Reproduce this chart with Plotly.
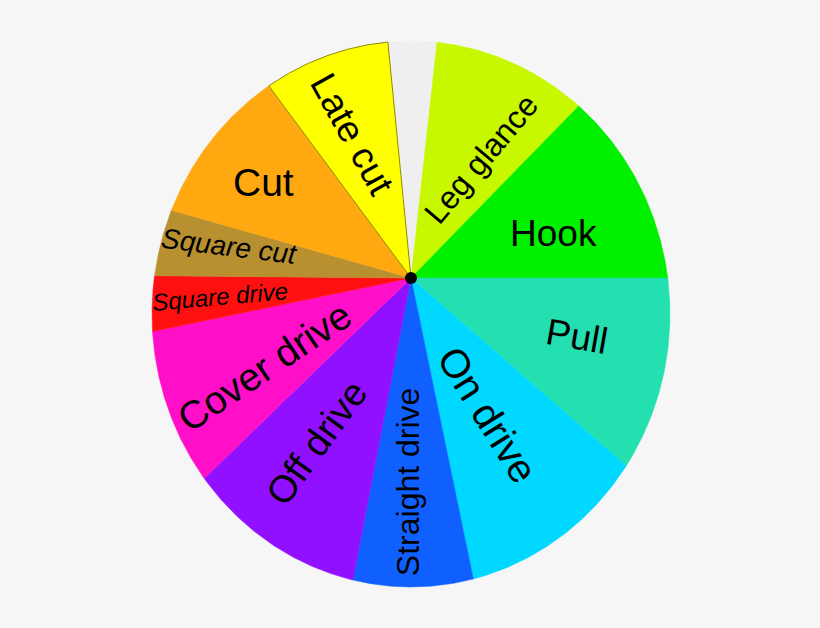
import numpy as np
import plotly.graph_objects as go

# cricket shots, clockwise from the top (first slice is the blank one)
shots = ["", "Leg glance", "Hook", "Pull", "On drive", "Straight drive",
         "Off drive", "Cover drive", "Square drive", "Square cut", "Cut", "Late cut"]
# angular size of each slice in degrees
sizes = [11.9, 38.0, 45.7, 41.1, 37.2, 22.6, 35.0, 32.4, 12.2, 15.3, 37.7, 30.9]
colors = ["#efefef", "#c8f800", "#00f000", "#24e0b0", "#00d8ff", "#1060ff",
          "#9010ff", "#ff10c8", "#ff1010", "#b89030", "#ffa810", "#ffff00"]

# label styling (distance from hub, shift from slice middle, rotation, size)
label_r = [0, 138, 149, 176, 157, 204, 190, 171, 192, 184, 176, 155]
label_shift = [0, 5.2, 5.3, -1, 1, 1.2, 1.5, -3.4, 0, 1.7, -1.85, -1.2]
label_angle = [0, -50, 0, 10, 58, -90, -54, -34, -5, 7, 0, 61]
label_size = [0, 32, 37, 37, 40, 32, 38, 39, 24, 28, 39, 37]
label_italic = [False] * 8 + [True, True, False, False]

start = -5.6  # where the first slice begins, degrees clockwise from top

# wheel geometry in pixels: slices meet at the hub, the rim is an ellipse
hub = (411, 278)
rim_c = (411, 314)
rim_a, rim_b = 259, 273


def rim_point(theta):
    t = np.radians(theta)
    dx, dy = np.sin(t), -np.cos(t)
    u = (hub[0] - rim_c[0]) / rim_a
    v = (hub[1] - rim_c[1]) / rim_b
    A = (dx / rim_a) ** 2 + (dy / rim_b) ** 2
    B = 2 * (u * dx / rim_a + v * dy / rim_b)
    C = u * u + v * v - 1
    s = (-B + np.sqrt(B * B - 4 * A * C)) / (2 * A)
    return hub[0] + s * dx, hub[1] + s * dy


fig = go.Figure()
edges = start + np.concatenate([[0], np.cumsum(sizes)])

for i, shot in enumerate(shots):
    th = np.linspace(edges[i], edges[i + 1], 80)
    xs, ys = rim_point(th)
    x = np.concatenate([[hub[0]], xs, [hub[0]]])
    y = np.concatenate([[hub[1]], ys, [hub[1]]])
    if shot == "Late cut":
        line = dict(color="#8c8c00", width=1)
    else:
        line = dict(color=colors[i], width=0.5)
    fig.add_trace(go.Scatter(x=x, y=y, fill="toself", fillcolor=colors[i],
                             line=line, mode="lines", hoverinfo="text",
                             text=shot, showlegend=False))

    if shot:
        mid = (edges[i] + edges[i + 1]) / 2 + label_shift[i]
        t = np.radians(mid)
        lx = hub[0] + label_r[i] * np.sin(t)
        ly = hub[1] - label_r[i] * np.cos(t)
        font = dict(family="Liberation Sans, Arial, sans-serif",
                    size=label_size[i], color="black",
                    style="italic" if label_italic[i] else "normal")
        fig.add_annotation(x=lx, y=ly, text=shot, showarrow=False,
                           textangle=label_angle[i], font=font,
                           xanchor="center", yanchor="middle")

# hub dot
fig.add_trace(go.Scatter(x=[hub[0]], y=[hub[1]], mode="markers",
                         marker=dict(color="black", size=12),
                         hoverinfo="skip", showlegend=False))

fig.update_xaxes(range=[0, 820], visible=False)
fig.update_yaxes(range=[628, 0], visible=False)
fig.update_layout(width=820, height=628, margin=dict(l=0, r=0, t=0, b=0),
                  paper_bgcolor="#f6f6f6", plot_bgcolor="#f6f6f6")

# no page margin so the figure sits flush in the window
fig.write_html("out.html", config={"displayModeBar": False},
               post_script="document.body.style.margin='0';")
